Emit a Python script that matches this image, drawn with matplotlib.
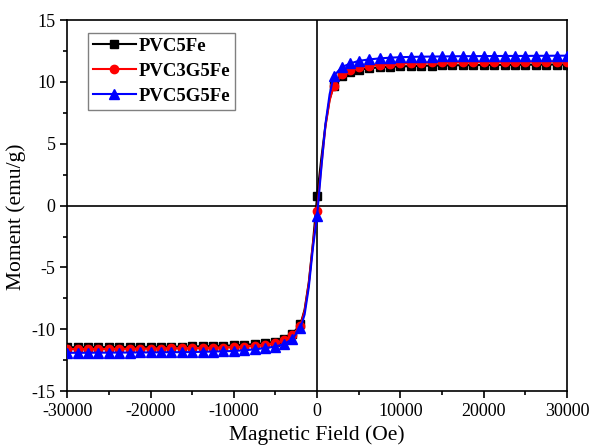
import numpy as np
import matplotlib.pyplot as plt
from matplotlib.ticker import MultipleLocator

plt.rcParams['font.family'] = ['Liberation Serif', 'DejaVu Serif']
plt.rcParams['axes.unicode_minus'] = False

# --- Data ---
field = [-30000, -28750, -27500, -26250, -25000, -23750, -22500, -21250, -20000,
         -18750, -17500, -16250, -15000, -13750, -12500, -11250, -10000, -8750,
         -7500, -6250, -5000, -4000, -3000, -2000, -1500, -1000, -500, 0,
         500, 1000, 1500, 2000, 3000, 4000, 5000, 6250, 7500, 8750, 10000,
         11250, 12500, 13750, 15000, 16250, 17500, 18750, 20000, 21250, 22500,
         23750, 25000, 26250, 27500, 28750, 30000]

pvc5fe = [-11.45, -11.45, -11.45, -11.44, -11.44, -11.43, -11.43, -11.42, -11.42,
          -11.41, -11.40, -11.40, -11.38, -11.37, -11.35, -11.33, -11.30, -11.25,
          -11.20, -11.12, -11.00, -10.80, -10.40, -9.60, -8.40, -6.20, -3.00, 0.80,
          3.80, 6.50, 8.60, 9.70, 10.50, 10.80, 11.00, 11.10, 11.18, 11.22, 11.25,
          11.28, 11.30, 11.32, 11.33, 11.34, 11.35, 11.36, 11.37, 11.37, 11.38,
          11.38, 11.39, 11.39, 11.40, 11.40, 11.40]

pvc3g5fe = [-11.60, -11.60, -11.60, -11.59, -11.59, -11.58, -11.58, -11.57, -11.57,
            -11.56, -11.55, -11.55, -11.54, -11.52, -11.50, -11.48, -11.45, -11.40,
            -11.33, -11.25, -11.12, -10.90, -10.50, -9.70, -8.50, -6.30, -3.10, -0.40,
            3.20, 6.40, 8.50, 9.70, 10.60, 10.95, 11.20, 11.32, 11.40, 11.46, 11.50,
            11.53, 11.55, 11.57, 11.58, 11.59, 11.60, 11.61, 11.62, 11.62, 11.63,
            11.63, 11.64, 11.64, 11.65, 11.65, 11.65]

pvc5g5fe = [-11.90, -11.90, -11.90, -11.89, -11.89, -11.88, -11.88, -11.87, -11.87,
            -11.86, -11.85, -11.85, -11.84, -11.82, -11.80, -11.78, -11.75, -11.70,
            -11.62, -11.52, -11.40, -11.20, -10.80, -9.90, -8.80, -6.60, -3.40, -0.80,
            3.00, 6.60, 9.00, 10.50, 11.20, 11.50, 11.70, 11.82, 11.90, 11.96, 12.00,
            12.02, 12.04, 12.05, 12.06, 12.07, 12.08, 12.08, 12.09, 12.09, 12.10,
            12.10, 12.10, 12.11, 12.11, 12.12, 12.12]

# markers only on the flat parts and at zero field, as in the original plot
marked = [i for i, h in enumerate(field) if abs(h) >= 2000 or h == 0]

fig, ax = plt.subplots(figsize=(5.9, 4.46), dpi=100)
fig.subplots_adjust(left=0.114, right=0.961, top=0.955, bottom=0.123)

ax.axhline(0, color='black', linewidth=1.2, zorder=1)
ax.axvline(0, color='black', linewidth=1.2, zorder=1)

ax.plot(field, pvc5fe, color='black', marker='s', markersize=5.5, linewidth=1.5,
        markevery=marked, label='PVC5Fe', zorder=3)
ax.plot(field, pvc3g5fe, color='red', marker='o', markersize=6, linewidth=1.5,
        markevery=marked, label='PVC3G5Fe', zorder=4)
ax.plot(field, pvc5g5fe, color='blue', marker='^', markersize=6.5, linewidth=1.5,
        markevery=marked, label='PVC5G5Fe', zorder=5)

ax.set_xlim(-30000, 30000)
ax.set_ylim(-15, 15)
ax.xaxis.set_major_locator(MultipleLocator(10000))
ax.xaxis.set_minor_locator(MultipleLocator(5000))
ax.yaxis.set_major_locator(MultipleLocator(5))
ax.yaxis.set_minor_locator(MultipleLocator(2.5))
ax.tick_params(which='major', direction='out', length=5, width=1.2, labelsize=13)
ax.tick_params(which='minor', direction='out', length=3, width=1.2)
for sp in ax.spines.values():
    sp.set_linewidth(1.2)

ax.set_xlabel('Magnetic Field (Oe)', fontsize=15.5)
ax.set_ylabel('Moment (emu/g)', fontsize=15.5)
ax.yaxis.set_label_coords(-0.082, 0.47)

leg = ax.legend(loc='upper left', bbox_to_anchor=(0.042, 0.965), borderaxespad=0,
                fancybox=False, edgecolor='gray', framealpha=1, handlelength=2.3,
                prop={'weight': 'bold', 'size': 13.5}, borderpad=0.25,
                labelspacing=0.42, handletextpad=0.15)
leg.get_frame().set_linewidth(1.0)

fig.savefig('out.png', dpi=100)
